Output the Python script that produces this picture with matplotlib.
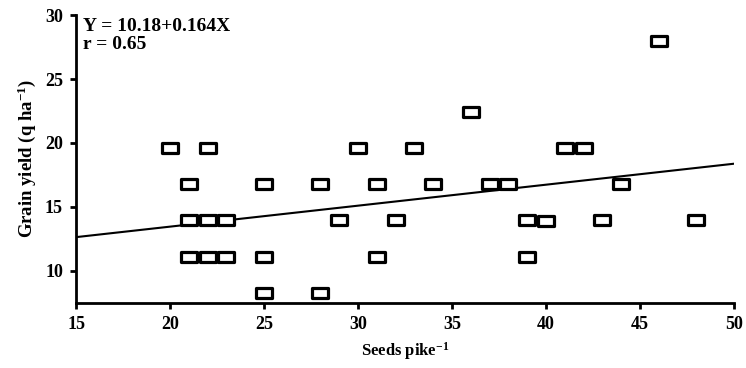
import matplotlib
matplotlib.use("Agg")
import matplotlib.pyplot as plt
import numpy as np
from matplotlib.path import Path

plt.rcParams["font.family"] = ["Liberation Serif", "DejaVu Serif"]
plt.rcParams["font.weight"] = "bold"
plt.rcParams["mathtext.default"] = "regular"

# data
seeds = [20, 21, 21, 21, 22, 22, 22, 23, 23, 25, 25, 25, 28, 28, 29, 30, 31, 31,
         32, 33, 34, 36, 37, 38, 39, 39, 40, 41, 42, 43, 44, 46, 48]
grain = [19.6, 16.8, 14.0, 11.1, 19.6, 14.0, 11.1, 14.0, 11.1, 16.8, 11.1, 8.3,
         16.8, 8.3, 14.0, 19.6, 16.8, 11.1, 14.0, 19.6, 16.8, 22.4, 16.8, 16.8,
         14.0, 11.1, 13.9, 19.6, 19.6, 14.0, 16.8, 28.0, 14.0]
intercept = 10.18
slope = 0.164
r_value = 0.65

# wide rectangle marker like the original
rect = Path([(-1, -0.55), (1, -0.55), (1, 0.55), (-1, 0.55), (-1, -0.55)],
            [Path.MOVETO, Path.LINETO, Path.LINETO, Path.LINETO, Path.CLOSEPOLY])

fig = plt.figure(figsize=(7.46, 3.68), dpi=100)
ax = fig.add_axes([0.102, 0.177, 0.882, 0.782])

ax.plot(seeds, grain, linestyle="none", marker=rect, markersize=12,
        markerfacecolor="white", markeredgecolor="black", markeredgewidth=2.3, zorder=3)

xl = np.array([15, 50])
ax.plot(xl, intercept + slope * xl, color="black", linewidth=1.5, zorder=2)

ax.set_xlim(15, 50)
ax.set_ylim(7.5, 30)
ax.set_xticks([15, 20, 25, 30, 35, 40, 45, 50])
ax.set_yticks([10, 15, 20, 25, 30])

for s in ["top", "right"]:
    ax.spines[s].set_visible(False)
for s in ["left", "bottom"]:
    ax.spines[s].set_linewidth(2)
ax.tick_params(direction="out", length=4.5, width=2, labelsize=13, pad=5)
for lbl in ax.get_xticklabels() + ax.get_yticklabels():
    lbl.set_fontweight("bold")

ax.set_xlabel("Seeds pike$^{-1}$", fontsize=12, fontweight="bold", labelpad=5)
ax.set_ylabel("Grain yield (q ha$^{-1}$)", fontsize=13.5, fontweight="bold", labelpad=5)

ax.text(0.011, 0.99, f"Y = {intercept:.2f}+{slope:.3f}X\nr = {r_value:.2f}",
        transform=ax.transAxes, ha="left", va="top", fontsize=14,
        fontweight="bold", linespacing=1.1)

fig.savefig("out.png", dpi=100, facecolor="white")
